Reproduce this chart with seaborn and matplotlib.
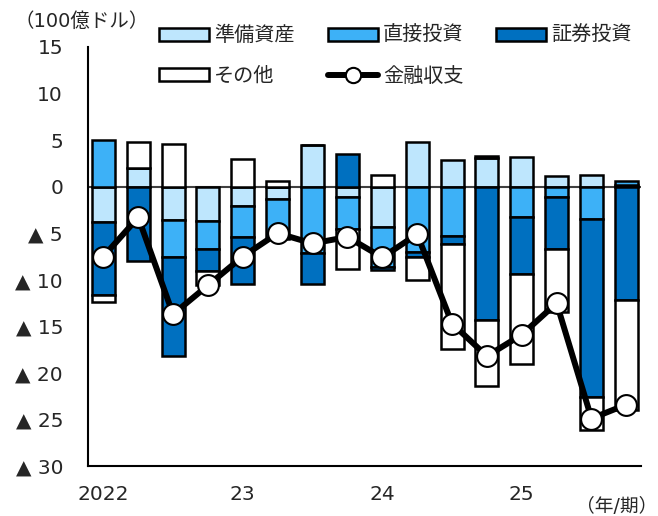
import numpy as np
import pandas as pd
import matplotlib
matplotlib.use("Agg")
import matplotlib.pyplot as plt
import seaborn as sns
from matplotlib.patches import Patch
from matplotlib.lines import Line2D

sns.set_style("white")
plt.rcParams['font.family'] = ['DejaVu Sans', 'Noto Sans CJK JP']

# quarters 2022Q1 .. 2025Q4
quarters = ["22Q1", "22Q2", "22Q3", "22Q4", "23Q1", "23Q2", "23Q3", "23Q4",
            "24Q1", "24Q2", "24Q3", "24Q4", "25Q1", "25Q2", "25Q3", "25Q4"]
reserve = [-3.8, 2.0, -3.6, -3.65, -2.1, -1.3, 4.5, -1.1,
           -4.3, 4.8, 2.9, 3.1, 3.2, 1.1, 1.3, 0.15]
direct = [5.0, 0.0, -4.0, -3.05, -3.3, -4.3, -7.15, -3.5,
          -4.3, -7.0, -5.3, 0.15, -3.3, -1.1, -3.5, 0.5]
portfolio = [-7.8, -8.0, -10.55, -2.4, -5.1, 0.0, -3.3, 3.5,
             -0.3, -0.5, -0.85, -14.3, -6.1, -5.6, -19.05, -12.2]
other = [-0.8, 2.8, 4.55, -1.5, 3.0, 0.6, 0.0, -4.2,
         1.3, -2.5, -11.3, -7.1, -9.65, -6.8, -3.55, -11.8]
financial = [-7.5, -3.3, -13.7, -10.6, -7.5, -5.0, -6.1, -5.4,
             -7.6, -5.1, -14.7, -18.2, -15.9, -12.5, -24.9, -23.4]

year_labels = ["2022", "23", "24", "25"]
yticks = [15, 10, 5, 0, -5, -10, -15, -20, -25, -30]

series = {"準備資産": reserve, "直接投資": direct, "証券投資": portfolio, "その他": other}
colors = {"準備資産": "#BEE6FD", "直接投資": "#3DB1F7", "証券投資": "#0070C0", "その他": "#FFFFFF"}

df = pd.DataFrame(series, index=quarters)
x = np.arange(len(quarters))
fs = 14.5

fig = plt.figure(figsize=(6.58, 5.16), dpi=100)
ax = fig.add_axes([88/658, 1-466/516, (641-88)/658, (466-47)/516])

ax.axhline(0, color="#404040", lw=1.5, zorder=1)

# stack positives upward and negatives downward separately
pos_bottom = np.zeros(len(x))
neg_bottom = np.zeros(len(x))
for name in series:
    vals = df[name].values
    bottom = np.where(vals >= 0, pos_bottom, neg_bottom)
    ax.bar(x, vals, width=0.66, bottom=bottom, color=colors[name],
           edgecolor="black", linewidth=1.8, zorder=2)
    pos_bottom = pos_bottom + np.where(vals >= 0, vals, 0)
    neg_bottom = neg_bottom + np.where(vals < 0, vals, 0)

sns.lineplot(x=x, y=financial, ax=ax, color="black", linewidth=4.3,
             marker="o", markersize=15, markerfacecolor="white",
             markeredgecolor="black", markeredgewidth=1.5, zorder=3)

ax.set_ylim(-30, 15)
ax.set_xlim(-0.44, 15.42)
ax.set_yticks(yticks)
ax.set_yticklabels([str(v) if v >= 0 else f"▲ {abs(v)}" for v in yticks], fontsize=fs)
ax.tick_params(axis="y", direction="in", length=4.5, width=1.5, pad=18)

ax.set_xticks([-0.44, 3.5, 7.5, 11.5, 15.42])
ax.set_xticklabels([])
ax.tick_params(axis="x", which="major", direction="out", length=5, width=1.5)
ax.set_xticks([0, 4, 8, 12], minor=True)
ax.set_xticklabels(year_labels, minor=True, fontsize=fs)
ax.tick_params(axis="x", which="minor", length=0, pad=14)

for s in ["top", "right"]:
    ax.spines[s].set_visible(False)
for s in ["left", "bottom"]:
    ax.spines[s].set_linewidth(1.5)
    ax.spines[s].set_color("black")

fig.text(14/658, 1-21/516, "（100億ドル）", fontsize=14, va="center", ha="left")
fig.text(657/658, 1-506/516, "（年/期）", fontsize=13.5, va="center", ha="right")

h = {name: Patch(facecolor=colors[name], edgecolor="black", linewidth=1.8) for name in series}
h["金融収支"] = Line2D([], [], color="black", lw=4.3, marker="o", markersize=11,
                     markerfacecolor="white", markeredgecolor="black", markeredgewidth=1.5)
order = ["準備資産", "その他", "直接投資", "金融収支", "証券投資"]
fig.legend([h[k] for k in order], order, loc="upper left",
           bbox_to_anchor=(159/658, 1-26/516), ncol=3, frameon=False,
           fontsize=fs, handlelength=2.5, handleheight=0.65, handletextpad=0.25,
           columnspacing=1.62, labelspacing=1.05, borderpad=0, borderaxespad=0)

fig.savefig("out.png", dpi=100)
